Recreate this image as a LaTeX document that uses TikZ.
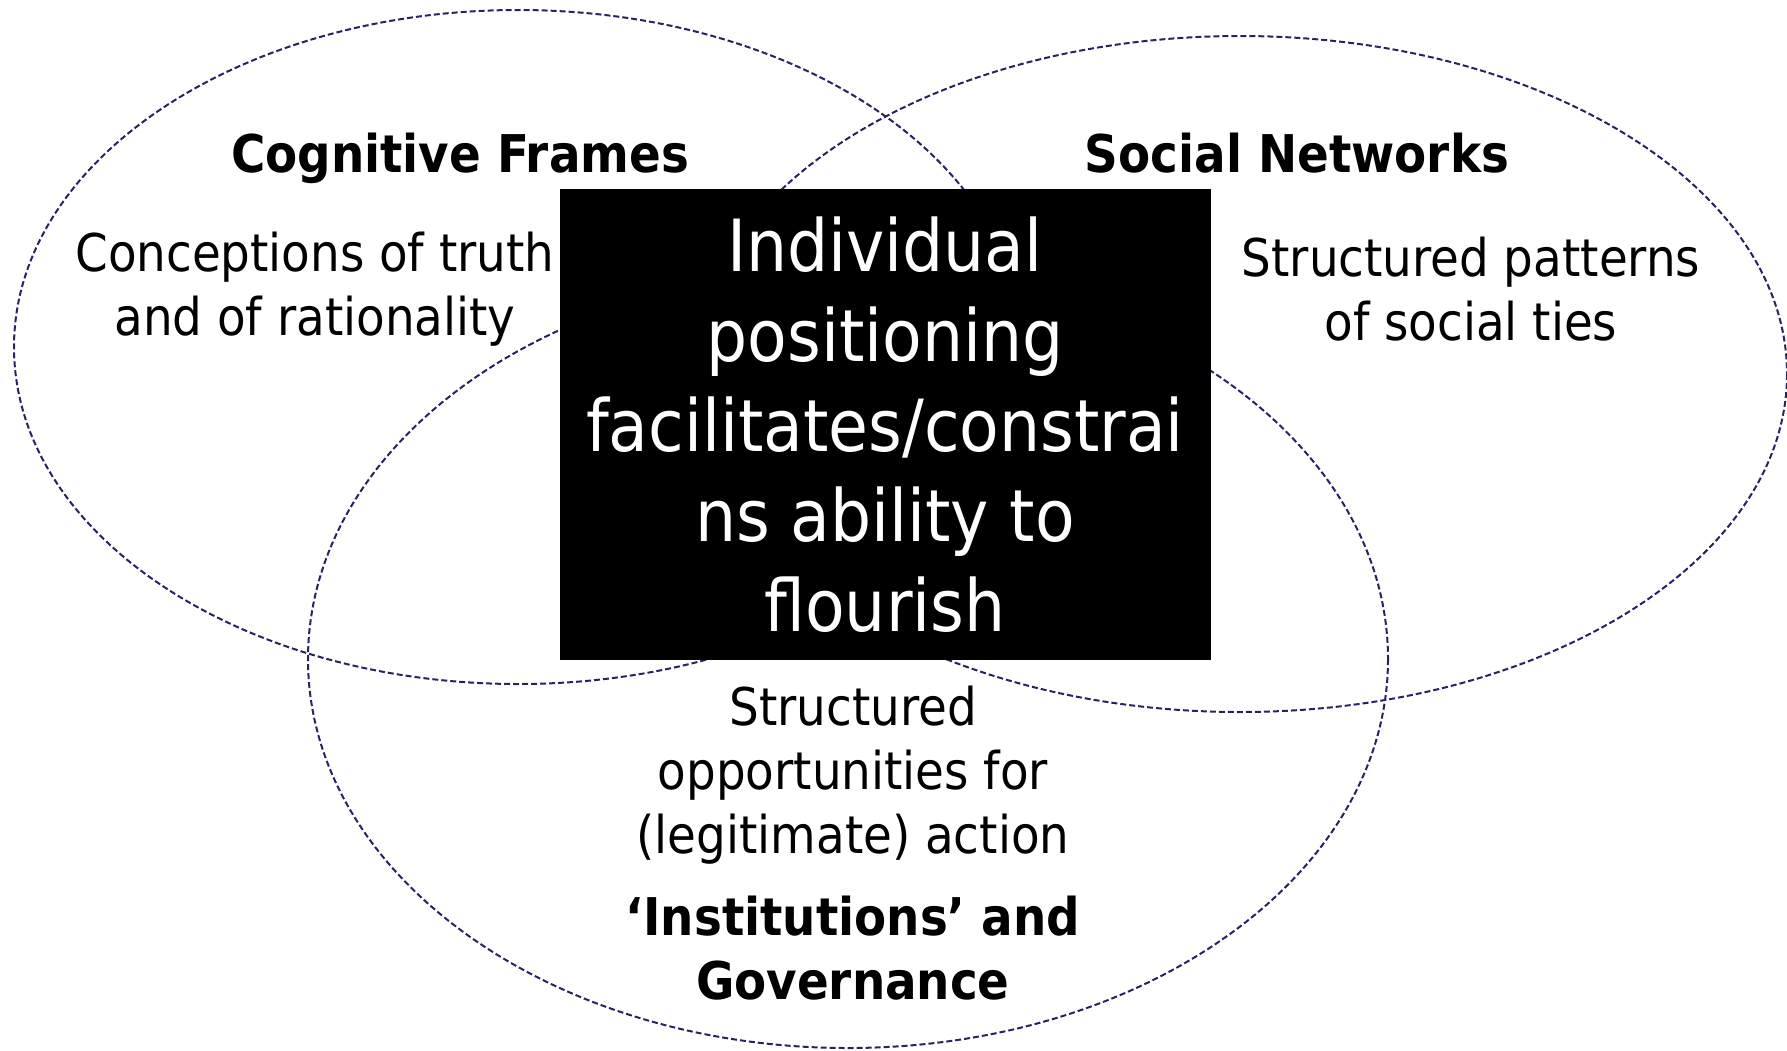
\documentclass[tikz,border=0pt]{standalone}
\usepackage{fontspec}
\setmainfont{DejaVu Sans Condensed}
\definecolor{ringblue}{RGB}{36,36,100}
\begin{document}
\begin{tikzpicture}
[x=1pt,y=-1pt,
  ringdecorate/.style={draw=ringblue,line width=2pt,dash pattern=on 6pt off 3pt},
  labeldecorate/.style={align=center,inner sep=0pt,font=\fontsize{52}{64}\selectfont},
  titledecorate/.style={align=center,inner sep=0pt,font=\fontsize{52}{64}\selectfont\bfseries},
  boxdecorate/.style={fill=black,text=white,align=center,inner sep=0pt,
    minimum width=651pt,minimum height=471pt,font=\fontsize{72}{90}\selectfont}]
\useasboundingbox (0,0) rectangle (1787,1050);
%% the three rings
\foreach \cx/\cy/\rx/\ry in {
  518/347/504/337, 1240/374/547/338, 848/659/540/389}
{
  \draw[ringdecorate] (\cx,\cy) ellipse [x radius=\rx, y radius=\ry];
}
%% ring titles and texts
\node (cogtitle) at (460,158.5) [titledecorate] {Cognitive Frames};
\node (soctitle) at (1297,153) [titledecorate] {Social Networks};
\node (cogtext) at (315,289.5) [labeldecorate] {Conceptions of truth\\and of rationality};
\node (soctext) at (1471,289) [labeldecorate] {Structured patterns\\of social ties};
\node (insttext) at (853,775) [labeldecorate] {Structured\\opportunities for\\(legitimate) action};
\node (insttitle) at (853,948) [titledecorate] {‘Institutions’ and\\Governance};
%% centre box
\node (centre) at (885,424.5) [boxdecorate]
  {Individual\\positioning\\facilitates/constrai\\ns ability to\\flourish};
\end{tikzpicture}
\end{document}
